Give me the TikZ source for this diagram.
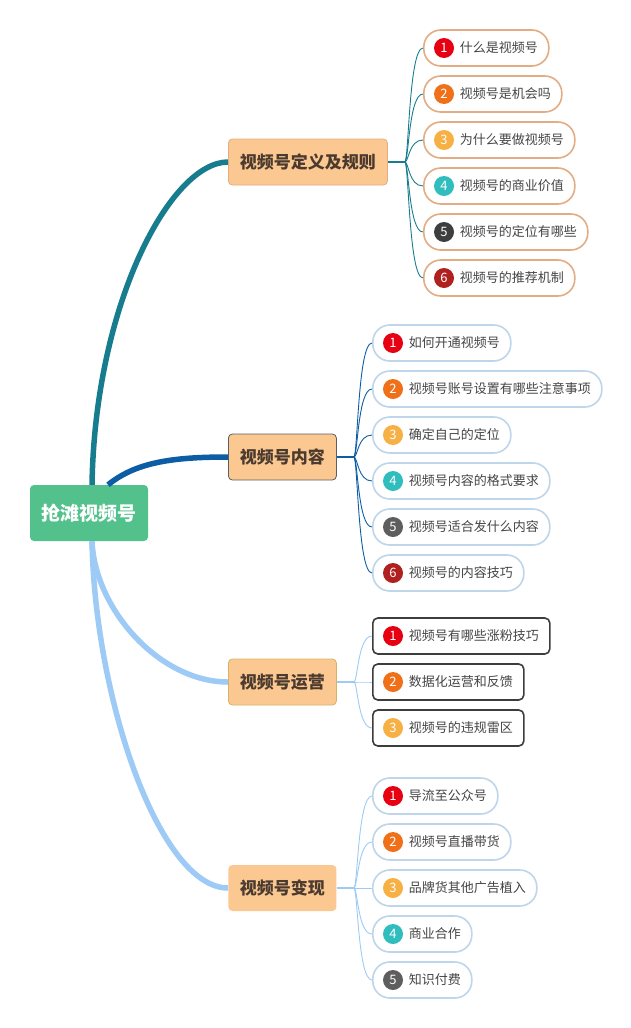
\documentclass[tikz,border=0pt]{standalone}
\usepackage{fontspec}
\setmainfont{Noto Sans CJK SC}
\usetikzlibrary{positioning,calc}

\definecolor{rootgreen}{HTML}{53C18B}
\definecolor{topicfill}{HTML}{FCC892}
\definecolor{topictext}{HTML}{4B3A2E}
\definecolor{leaftext}{HTML}{454545}
\definecolor{teal1}{HTML}{177D8E}
\definecolor{blue2}{HTML}{0D5DA5}
\definecolor{sky3}{HTML}{9DCBF6}
\definecolor{tan1}{HTML}{E3AC83}
\definecolor{pale2}{HTML}{BED5EA}
\definecolor{dark3}{HTML}{3D3D3D}
\definecolor{n1}{HTML}{E60012}
\definecolor{n2}{HTML}{F0701A}
\definecolor{n3}{HTML}{F6B044}
\definecolor{n4}{HTML}{2FBDBE}
\definecolor{n5a}{HTML}{3E3E3E}
\definecolor{n5b}{HTML}{5E5E5E}
\definecolor{n6}{HTML}{B0201F}

\begin{document}
\begin{tikzpicture}[
	x=1pt, y=-1pt, % coordinates in pixels, y downwards
	root/.style={
		fill=rootgreen, text=white,
		font=\fontsize{19}{19}\selectfont\bfseries,
		rounded corners=4pt,
		minimum height=56pt, inner xsep=11.5pt
	},
	topic/.style={
		fill=topicfill, text=topictext,
		font=\fontsize{17}{17}\selectfont\bfseries,
		rounded corners=4pt, line width=0.8pt,
		minimum height=46pt, inner xsep=11.5pt
	},
	leaf/.style={
		fill=white, text=leaftext,
		font=\fontsize{13}{13}\selectfont,
		minimum height=36pt, inner xsep=11pt,
		line width=1.6pt, rounded corners=17pt,
		anchor=west
	},
	num/.style={ % numbered dot
		circle, minimum size=20pt, inner sep=0pt,
		text=white, font=\fontsize{13}{13}\selectfont
	},
	branch/.style={line width=5.5pt},
	twig/.style={line width=0.9pt}
	]
	\useasboundingbox (0,0) rectangle (631,1028);
	
	% --- root and topics ---
	\node[root] (root) at (89,513) {抢滩视频号};
	\node[topic, draw=tan1, anchor=west] (t1) at (228,162) {视频号定义及规则};
	\node[topic, draw=n5b, anchor=west] (t2) at (228,457) {视频号内容};
	\node[topic, draw=topicfill!70!olive, anchor=west] (t3) at (228,682) {视频号运营};
	\node[topic, anchor=west] (t4) at (228,888) {视频号变现};
	
	% --- main branches ---
	\draw[branch, teal1] ([xshift=3pt]root.north) .. controls (95,303) and (171,162) .. (t1.west);
	\draw[branch, blue2] ([xshift=19pt]root.north) .. controls (135,463) and (170,457) .. (t2.west);
	\draw[branch, sky3] ([xshift=3pt]root.south) .. controls (95,610) and (160,682) .. (t3.west);
	\draw[branch, sky3] ([xshift=3pt]root.south) .. controls (95,700) and (160,888) .. (t4.west);
	
	% --- group 1 ---
	\foreach \txt/\col [count=\i] in {什么是视频号/n1, 视频号是机会吗/n2, 为什么要做视频号/n3, 视频号的商业价值/n4, 视频号的定位有哪些/n5a, 视频号的推荐机制/n6} {
		\node[leaf, draw=tan1] (b1-\i) at (423,{48+46*(\i-1)}) {\hspace*{25pt}\txt};
		\node[num, fill=\col] (d1-\i) at ([xshift=21pt]b1-\i.west) {\i};
	}
	\coordinate (j1) at ([xshift=17pt]t1.east);
	\draw[teal1, line width=2pt] (t1.east) -- (j1);
	\foreach \i in {1,...,6} {
		\draw[twig, teal1] (j1) .. controls ($(j1)+(4,0)$) and ($(j1 |- b1-\i.west)+(4,0)$) .. (b1-\i.west);
	}
	
	% --- group 2 ---
	\foreach \txt/\col [count=\i] in {如何开通视频号/n1, 视频号账号设置有哪些注意事项/n2, 确定自己的定位/n3, 视频号内容的格式要求/n4, 视频号适合发什么内容/n5b, 视频号的内容技巧/n6} {
		\node[leaf, draw=pale2] (b2-\i) at (372,{343+46*(\i-1)}) {\hspace*{25pt}\txt};
		\node[num, fill=\col] (d2-\i) at ([xshift=21pt]b2-\i.west) {\i};
	}
	\coordinate (j2) at ([xshift=17pt]t2.east);
	\draw[blue2, line width=2pt] (t2.east) -- (j2);
	\foreach \i in {1,...,6} {
		\draw[twig, blue2] (j2) .. controls ($(j2)+(4,0)$) and ($(j2 |- b2-\i.west)+(4,0)$) .. (b2-\i.west);
	}
	
	% --- group 3 ---
	\foreach \txt/\col [count=\i] in {视频号有哪些涨粉技巧/n1, 数据化运营和反馈/n2, 视频号的违规雷区/n3} {
		\node[leaf, draw=dark3, rounded corners=5pt] (b3-\i) at (372,{636+46*(\i-1)}) {\hspace*{25pt}\txt};
		\node[num, fill=\col] (d3-\i) at ([xshift=21pt]b3-\i.west) {\i};
	}
	\coordinate (j3) at ([xshift=17pt]t3.east);
	\draw[sky3, line width=2pt] (t3.east) -- (j3);
	\foreach \i in {1,...,3} {
		\draw[twig, sky3] (j3) .. controls ($(j3)+(4,0)$) and ($(j3 |- b3-\i.west)+(4,0)$) .. (b3-\i.west);
	}
	
	% --- group 4 ---
	\foreach \txt/\col [count=\i] in {导流至公众号/n1, 视频号直播带货/n2, 品牌货其他广告植入/n3, 商业合作/n4, 知识付费/n5b} {
		\node[leaf, draw=pale2] (b4-\i) at (372,{796+46*(\i-1)}) {\hspace*{25pt}\txt};
		\node[num, fill=\col] (d4-\i) at ([xshift=21pt]b4-\i.west) {\i};
	}
	\coordinate (j4) at ([xshift=17pt]t4.east);
	\draw[sky3, line width=2pt] (t4.east) -- (j4);
	\foreach \i in {1,...,5} {
		\draw[twig, sky3] (j4) .. controls ($(j4)+(4,0)$) and ($(j4 |- b4-\i.west)+(4,0)$) .. (b4-\i.west);
	}
\end{tikzpicture}
\end{document}
